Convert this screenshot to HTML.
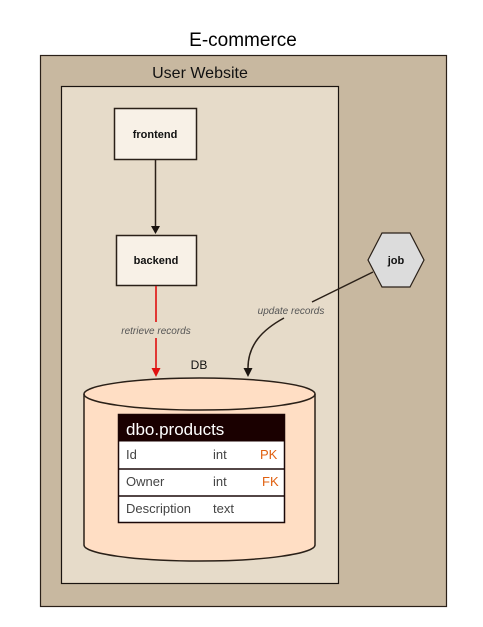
<!DOCTYPE html>
<html><head><style>body{margin:0;background:#fff;width:483px;height:622px;overflow:hidden}</style></head><body>
<svg width="483" height="622" xmlns="http://www.w3.org/2000/svg" font-family="Liberation Sans, DejaVu Sans, sans-serif">
<text x="243" y="46" text-anchor="middle" font-size="19" fill="#000">E-commerce</text>
<rect x="40.5" y="55.5" width="406" height="551" fill="#c8b8a0" stroke="#2a2018" stroke-width="1.2"/>
<text x="200" y="78" text-anchor="middle" font-size="16" fill="#111">User Website</text>
<rect x="61.5" y="86.5" width="277" height="497" fill="#e6dbc9" stroke="#1a1410" stroke-width="1.2"/>
<rect x="114.5" y="108.5" width="82" height="51" fill="#f8f1e7" stroke="#2a2018" stroke-width="1.5"/>
<text x="155" y="138" text-anchor="middle" font-size="11" font-weight="bold" fill="#111">frontend</text>
<rect x="116.5" y="235.5" width="80" height="50" fill="#f8f1e7" stroke="#2a2018" stroke-width="1.5"/>
<text x="156" y="264" text-anchor="middle" font-size="11" font-weight="bold" fill="#111">backend</text>
<line x1="155.5" y1="159" x2="155.5" y2="226" stroke="#2a2018" stroke-width="1.5"/>
<polygon points="151,226 160,226 155.5,234" fill="#1a1410"/>
<line x1="156" y1="286" x2="156" y2="322" stroke="#e01010" stroke-width="1.6"/>
<line x1="156" y1="338" x2="156" y2="368" stroke="#e01010" stroke-width="1.6"/>
<polygon points="151.5,368 160.5,368 156,377" fill="#e01010"/>
<text x="156" y="334" text-anchor="middle" font-size="10" font-style="italic" fill="#555">retrieve records</text>
<polygon points="368,260 382,233 410,233 424,260 410,287 382,287" fill="#dcdcdc" stroke="#2a2018" stroke-width="1.2"/>
<text x="396" y="264" text-anchor="middle" font-size="11" font-weight="bold" fill="#111">job</text>
<path d="M373,272 L312,302" stroke="#2a2018" stroke-width="1.5" fill="none"/>
<path d="M284,318 C262,330 248,345 248,368" stroke="#2a2018" stroke-width="1.5" fill="none"/>
<polygon points="243.5,368 252.5,368 248,377" fill="#1a1410"/>
<text x="291" y="314" text-anchor="middle" font-size="10" font-style="italic" fill="#555">update records</text>
<text x="199" y="369" text-anchor="middle" font-size="12" fill="#111">DB</text>
<path d="M84,394 L84,545 A115.5,16 0 0 0 315,545 L315,394" fill="#ffdec4" stroke="#2a2018" stroke-width="1.5"/>
<ellipse cx="199.5" cy="394" rx="115.5" ry="16" fill="#ffdec4" stroke="#2a2018" stroke-width="1.5"/>
<rect x="118.5" y="414.5" width="166" height="108" fill="#fff" stroke="#1a0808" stroke-width="1.5"/>
<rect x="118.5" y="414.5" width="166" height="27" fill="#1a0000"/>
<text x="126" y="435" font-size="17" fill="#fff">dbo.products</text>
<line x1="118" y1="469" x2="285" y2="469" stroke="#1a0808" stroke-width="1.5"/>
<line x1="118" y1="496" x2="285" y2="496" stroke="#1a0808" stroke-width="1.5"/>
<g font-size="13" fill="#444">
<text x="126" y="459">Id</text><text x="213" y="459">int</text><text x="260" y="459" fill="#e06010">PK</text>
<text x="126" y="486">Owner</text><text x="213" y="486">int</text><text x="262" y="486" fill="#e06010">FK</text>
<text x="126" y="513">Description</text><text x="213" y="513">text</text>
</g>
</svg>
</body></html>
